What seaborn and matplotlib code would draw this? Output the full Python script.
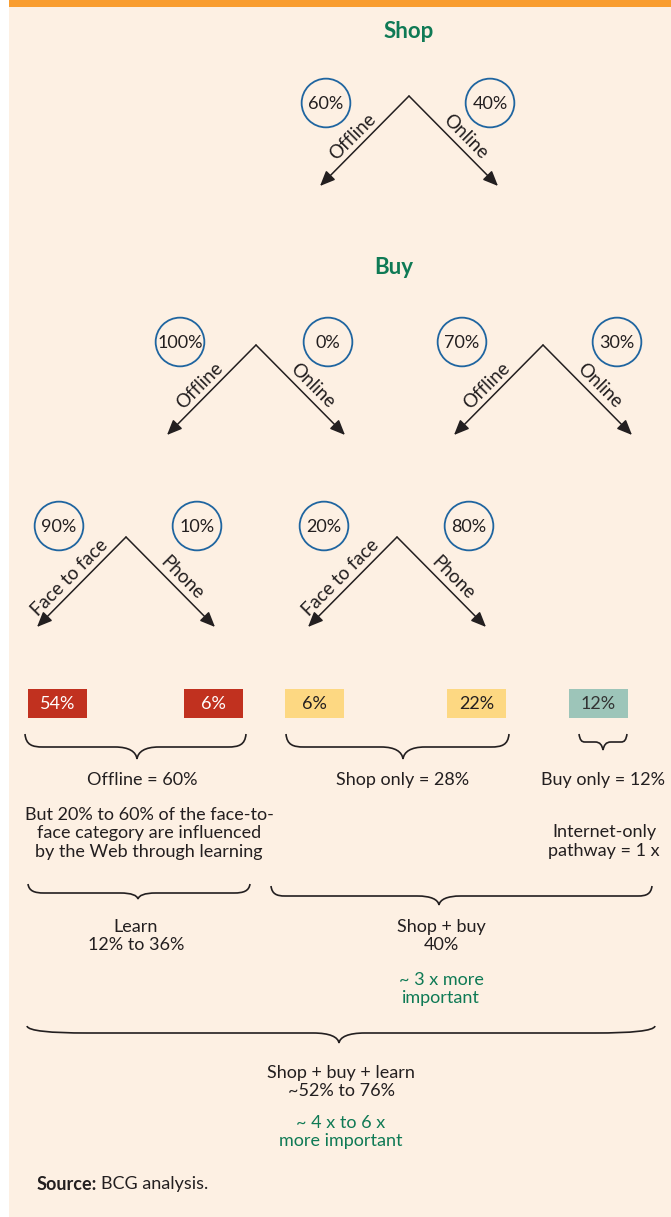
import numpy as np
import matplotlib
matplotlib.use("Agg")
import matplotlib.pyplot as plt
from matplotlib.patches import Rectangle, PathPatch
from matplotlib.path import Path
import seaborn as sns
import pandas as pd

sns.set_theme(style="white")
plt.rcParams['font.family'] = ['Lato', 'DejaVu Sans']

# ---------------- data ----------------
shop_labels = ["Offline", "Online"]
shop_shares = [60, 40]
buy_labels = ["Offline", "Online"]
buy_shares_offline_shoppers = [100, 0]
buy_shares_online_shoppers = [70, 30]
offline_labels = ["Face to face", "Phone"]
offline_shares_offline_shoppers = [90, 10]
offline_shares_online_shoppers = [20, 80]
outcome_values = [54, 6, 6, 22, 12]
outcome_groups = ["offline", "offline", "shop", "shop", "buy"]
group_labels = ["Offline = 60%", "Shop only = 28%", "Buy only = 12%"]
learn_note = ["But 20% to 60% of the face-to-", "face category are influenced", "by the Web through learning"]
internet_note = ["Internet-only", "pathway = 1 x"]
learn_label = ["Learn", "12% to 36%"]
shopbuy_label = ["Shop + buy", "40%"]
shopbuy_note = ["~ 3 x more", "important"]
total_label = ["Shop + buy + learn", "~52% to 76%"]
total_note = ["~ 4 x to 6 x", "more important"]

# ---------------- style ----------------
BG = "#fdf0e3"
ORANGE = "#f99d2f"
GREEN = "#0f7a55"
BLUE = "#1f65a0"
INK = "#231f20"
GROUP_COLORS = {"offline": "#c1311f", "shop": "#fdd882", "buy": "#9dc5b9"}
GROUP_TEXT = {"offline": "white", "shop": INK, "buy": "#333333"}
FS = 13

fig = plt.figure(figsize=(6.71, 12.17), dpi=100, facecolor="white")
ax = fig.add_axes([0, 0, 1, 1])

trees = [
    ((409, 96), shop_shares, shop_labels, [(326, 103), (490, 103)]),
    ((256, 345), buy_shares_offline_shoppers, buy_labels, [(180, 342), (328, 342)]),
    ((543, 345), buy_shares_online_shoppers, buy_labels, [(462, 342), (617, 342)]),
    ((126, 537), offline_shares_offline_shoppers, offline_labels, [(59, 526), (197, 526)]),
    ((397, 537), offline_shares_online_shoppers, offline_labels, [(324, 526), (469, 526)]),
]
cx, cy, ctext = [], [], []
for apex, shares, labels, cpos in trees:
    for (x, y), s in zip(cpos, shares):
        cx.append(x); cy.append(y); ctext.append(f"{s}%")
circ_df = pd.DataFrame({"x": cx, "y": cy, "label": ctext})

ax.add_patch(Rectangle((9, 0), 662, 1217, facecolor=BG, edgecolor="none", zorder=0))
ax.add_patch(Rectangle((9, 0), 662, 7, facecolor=ORANGE, edgecolor="none", zorder=1))

sns.scatterplot(data=circ_df, x="x", y="y", s=1230, marker="o", ax=ax,
                legend=False, zorder=3)
coll = ax.collections[-1]
coll.set_facecolor("none")
coll.set_edgecolor(BLUE)
coll.set_linewidth(1.3)
for _, r in circ_df.iterrows():
    ax.text(r.x, r.y + 1, r.label, ha="center", va="center", fontsize=FS, color=INK, zorder=4)

DROP, HALF = 90, 89
for apex, shares, labels, cpos in trees:
    ax0, ay0 = apex
    for side, lab in zip((-1, 1), labels):
        tip = (ax0 + side * HALF, ay0 + DROP)
        ax.annotate("", xy=tip, xytext=apex,
                    arrowprops=dict(arrowstyle="-|>,head_length=0.7,head_width=0.3",
                                    color=INK, lw=1.1, shrinkA=0, shrinkB=0,
                                    mutation_scale=13), zorder=2)
        f = 0.54
        mx, my = ax0 + side * HALF * f, ay0 + DROP * f
        n = np.array([side, -1.0]) / np.sqrt(2)
        off = 11.5
        ax.text(mx + n[0] * off, my + n[1] * off, lab, rotation=-45 * side,
                rotation_mode="anchor", ha="center", va="center",
                fontsize=FS + 0.5, color=INK, zorder=4)

ax.text(409, 32, "Shop", ha="center", va="center", fontsize=16, fontweight="bold", color=GREEN)
ax.text(394, 268, "Buy", ha="center", va="center", fontsize=16, fontweight="bold", color=GREEN)

box_x = [28, 184, 285, 447, 569]
box_w = 59
for x, v, g in zip(box_x, outcome_values, outcome_groups):
    ax.add_patch(Rectangle((x, 689), box_w, 29, facecolor=GROUP_COLORS[g], edgecolor="none", zorder=2))
    ax.text(x + box_w / 2, 704, f"{v}%", ha="center", va="center", fontsize=FS,
            color=GROUP_TEXT[g], zorder=3)


def brace(x0, x1, xm, ytop, yflat, ytip, r=18, rt=22, lw=1.2):
    verts = [(x0, ytop),
             (x0 + 1, yflat - 2), (x0 + r * 0.4, yflat), (x0 + r, yflat),
             (xm - rt, yflat),
             (xm - rt * 0.35, yflat), (xm - 1, yflat + 0.4 * (ytip - yflat)), (xm, ytip),
             (xm + 1, yflat + 0.4 * (ytip - yflat)), (xm + rt * 0.35, yflat), (xm + rt, yflat),
             (x1 - r, yflat),
             (x1 - r * 0.4, yflat), (x1 - 1, yflat - 2), (x1, ytop)]
    codes = [Path.MOVETO,
             Path.CURVE4, Path.CURVE4, Path.CURVE4,
             Path.LINETO,
             Path.CURVE4, Path.CURVE4, Path.CURVE4,
             Path.CURVE4, Path.CURVE4, Path.CURVE4,
             Path.LINETO,
             Path.CURVE4, Path.CURVE4, Path.CURVE4]
    ax.add_patch(PathPatch(Path(verts, codes), facecolor="none", edgecolor=INK, lw=lw, zorder=2))


brace(25, 246, 137, 734, 747, 759)
brace(286, 509, 403, 734, 747, 759)
brace(579, 627, 603, 734, 742, 750, r=6, rt=8)
brace(28, 250, 138, 884, 893, 899, r=16, rt=18)
brace(271, 652, 439, 886, 896, 905, r=14, rt=22)
brace(27, 655, 339, 1026, 1033, 1043, r=60, rt=26)


def lines(x, ys, texts, color=INK, ha="center"):
    for y, t in zip(ys, texts):
        ax.text(x, y, t, ha=ha, va="center", fontsize=FS, color=color, zorder=3)


lines(142, [780], [group_labels[0]])
lines(403, [780], [group_labels[1]])
lines(603, [780], [group_labels[2]])
lines(149, [815, 833, 852], learn_note)
lines(604, [832, 851], internet_note)
lines(136, [927, 945], learn_label)
lines(441, [927, 945], shopbuy_label)
lines(441, [980, 998], shopbuy_note, color=GREEN)
lines(341, [1073, 1091], total_label)
lines(341, [1123, 1141], total_note, color=GREEN)

ax.set_xlim(0, 671)
ax.set_ylim(1217, 0)
ax.axis("off")

t1 = ax.text(37, 1184, "Source:", ha="left", va="center", fontsize=FS, fontweight="bold", color=INK)
fig.canvas.draw()
bb = t1.get_window_extent()
x_end = ax.transData.inverted().transform((bb.x1, bb.y0))[0]
ax.text(x_end + 4, 1184, "BCG analysis.", ha="left", va="center", fontsize=FS, color=INK)

fig.savefig("out.png", dpi=100, facecolor="white")
